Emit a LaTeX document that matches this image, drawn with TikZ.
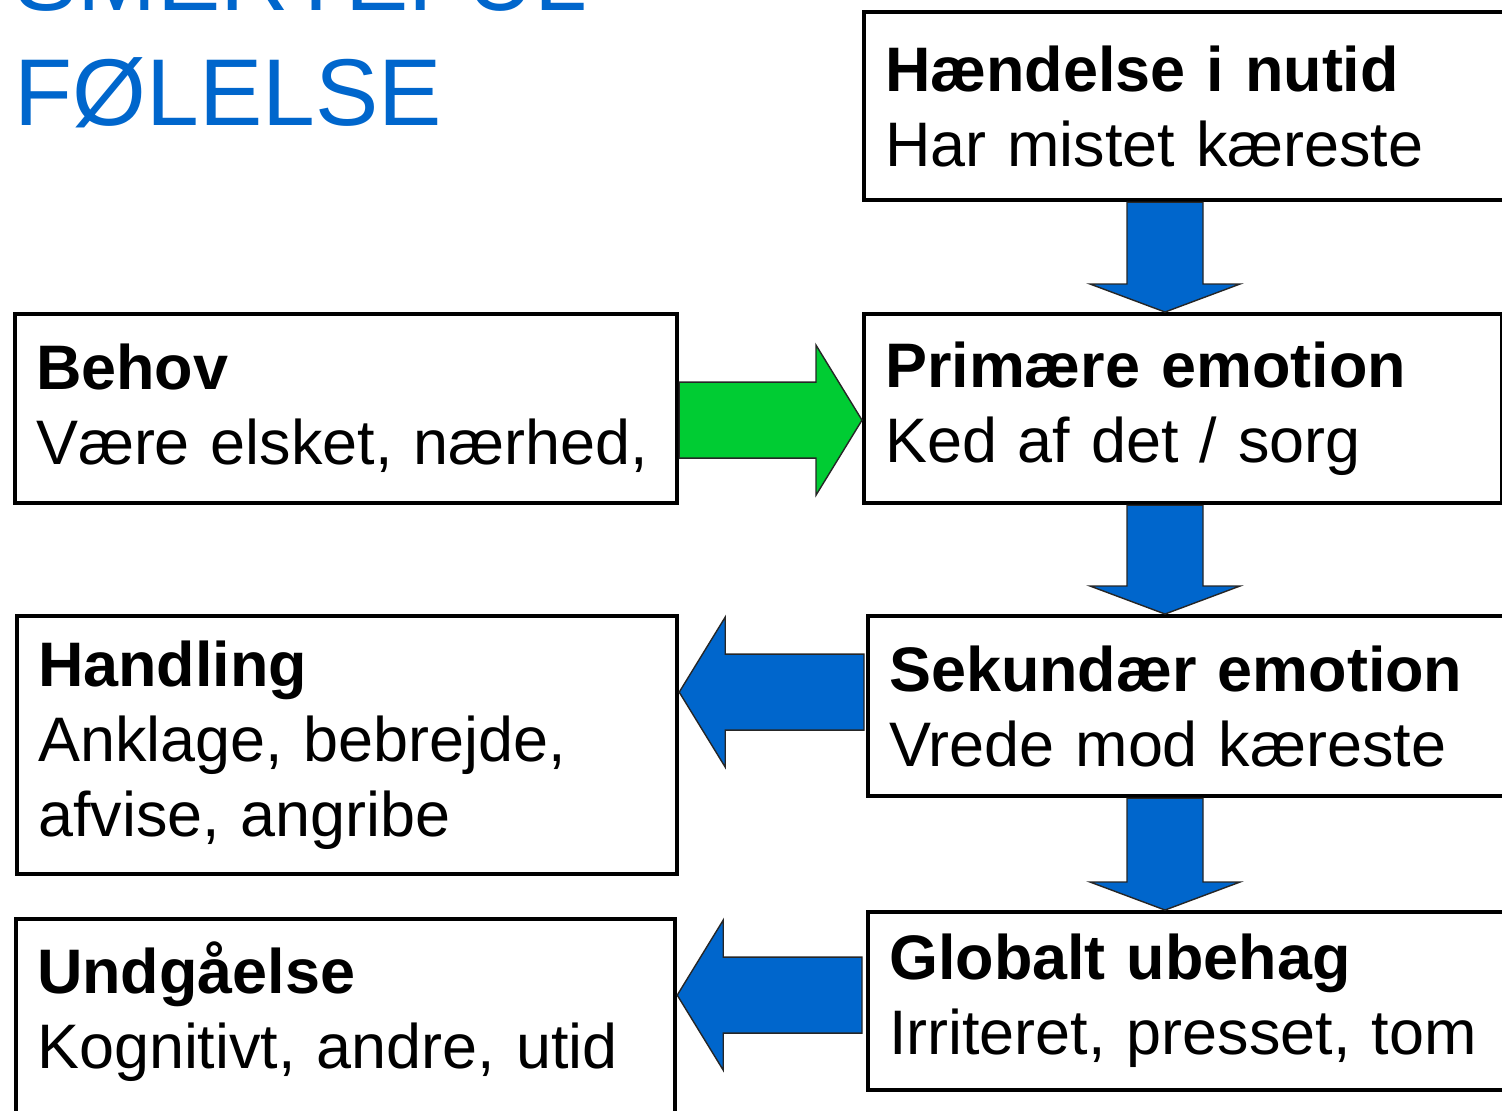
\documentclass[tikz,border=0pt]{standalone}
\usepackage{fontspec}
\setmainfont{Liberation Sans}
\usepackage{tikz}
\usetikzlibrary{positioning, calc}

\definecolor{pilblaa}{RGB}{0,102,204}
\definecolor{pilgroen}{RGB}{0,204,51}

% fat block arrow: colour, tail, tip, head length
\newcommand{\fedpil}[4]{%
  \coordinate (hb) at ($(#3)!#4!(#2)$);
  \filldraw[fill=#1, draw=black!85, line width=0.4pt]
    ($(#2)!0.38cm!90:(#3)$) -- ($(hb)!0.38cm!90:(#3)$) -- ($(hb)!0.75cm!90:(#3)$)
    -- (#3) -- ($(hb)!0.75cm!-90:(#3)$) -- ($(hb)!0.38cm!-90:(#3)$)
    -- ($(#2)!0.38cm!-90:(#3)$) -- cycle;
}

\tikzset{
  felt/.style 2 args={draw, rectangle, line width=1.2pt, align=left, anchor=north west,
    inner xsep=0.21cm, inner ysep=0pt, text width=#1, minimum height=#2,
    font=\fontsize{17.9pt}{21.3pt}\selectfont},
}

\begin{document}
\begin{tikzpicture}
        \useasboundingbox (0,0) rectangle (15.02,-11.10);
        \clip (0,0) rectangle (15.02,-11.10);

        % Title
        \node [pilblaa, anchor=north west, inner sep=0pt, align=left,
               font=\fontsize{27pt}{32.7pt}\selectfont] (titel) at (0.14,0.56)
               {SMERTEFUL\\FØLELSE};

        % Boxes
        \node [felt={6.58cm}{1.88cm}] (haend) at (8.62,-0.10)
              {\textbf{Hændelse i nutid}\\Har mistet kæreste};
        \node [felt={5.96cm}{1.89cm}] (prim) at (8.62,-3.12)
              {\textbf{Primære emotion}\\Ked af det / sorg};
        \node [felt={6.20cm}{1.89cm}] (behov) at (0.13,-3.12)
              {\textbf{Behov}\\\mbox{Være elsket, nærhed,}};
        \node [felt={6.58cm}{1.80cm}] (sek) at (8.66,-6.14)
              {\textbf{Sekundær emotion}\\Vrede mod kæreste};
        \node [felt={6.18cm}{2.58cm}, yshift=-0.13cm] (handl) at (0.15,-6.01)
              {\textbf{Handling}\\Anklage, bebrejde,\\afvise, angribe};
        \node [felt={6.58cm}{1.78cm}, yshift=-0.07cm] (glob) at (8.66,-9.03)
              {\textbf{Globalt ubehag}\\Irriteret, presset, tom};
        \node [felt={6.17cm}{0cm}, inner ysep=0.23cm, text depth=1.6cm] (undg) at (0.14,-9.17)
              {\textbf{Undgåelse}\\Kognitivt, andre, utid};

        % Arrows
        \coordinate (n1) at ($(haend.south west)+(3.03,0)$);
        \coordinate (n2) at ($(prim.south west)+(3.03,0)$);
        \coordinate (n3) at ($(sek.south west)+(2.99,0)$);
        \coordinate (g1) at ($(behov.east)+(0,-0.115)$);
        \coordinate (b1) at ($(sek.west)+(-0.02,0.14)$);
        \coordinate (b2) at ($(glob.west)+(-0.04,0.06)$);

        \fedpil{pilblaa}{n1}{n1 |- prim.north}{0.28cm}
        \fedpil{pilblaa}{n2}{n2 |- sek.north}{0.28cm}
        \fedpil{pilblaa}{n3}{n3 |- glob.north}{0.28cm}
        \fedpil{pilgroen}{g1}{g1 -| prim.west}{0.46cm}
        \fedpil{pilblaa}{b1}{b1 -| handl.east}{0.46cm}
        \fedpil{pilblaa}{b2}{b2 -| undg.east}{0.46cm}

\end{tikzpicture}
\end{document}
